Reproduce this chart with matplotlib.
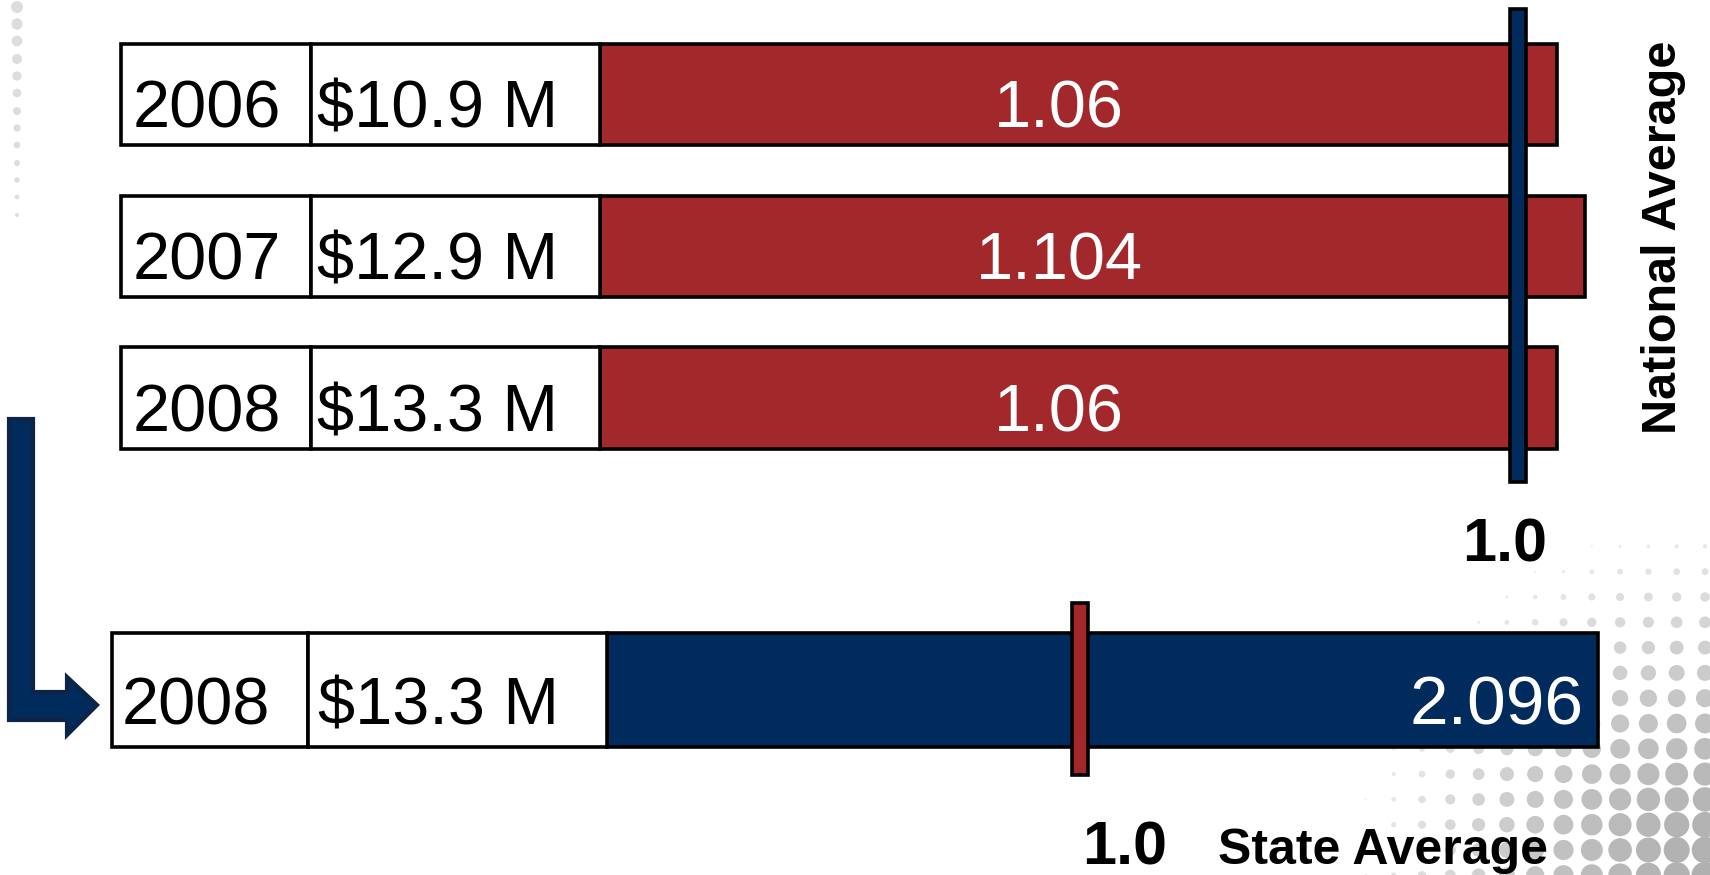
import numpy as np
import matplotlib.pyplot as plt
from matplotlib.patches import Rectangle, Polygon
from matplotlib import transforms

# data
years_top = ['2006', '2007', '2008']
funding_top = ['$10.9 M', '$12.9 M', '$13.3 M']
index_top = [1.06, 1.104, 1.06]
national_avg = 1.0

year_state = '2008'
funding_state = '$13.3 M'
index_state = 2.096
state_avg = 1.0

RED = '#A3282B'
NAVY = '#002B5C'
LW = 2.6
W, H = 1710, 875
SANS = ['Liberation Sans', 'DejaVu Sans']

fig = plt.figure(figsize=(W / 100, H / 100), dpi=100)


def px_axes(left, top, right, bottom):
    ax = fig.add_axes([left / W, 1 - bottom / H, (right - left) / W, (bottom - top) / H])
    ax.set_axis_off()
    ax.patch.set_alpha(0)
    return ax


# background decoration: dots and the arrow, in pixel units
bg = px_axes(0, 0, W, H)
bg.set_xlim(0, W)
bg.set_ylim(H, 0)
ly = np.array([7, 24, 41, 59, 76, 93, 111, 128, 145, 163, 180, 197, 215])
ld = np.linspace(12, 4, len(ly))
bg.scatter(np.full(len(ly), 17), ly, s=(0.72 * ld) ** 2, color='#dddddd', lw=0)
gx, gy = np.meshgrid(1705 - 28.3 * np.arange(14), 850 - 25.3 * np.arange(-1, 13))
dist = np.hypot(1710 - gx, 875 - gy)
keep = dist < 360
frac = np.clip(1 - (dist / 370) ** 1.5, 0, 1)[keep]
grey = (0.95 - 0.26 * frac)
bg.scatter(gx[keep], gy[keep], s=(0.72 * 27 * frac) ** 2,
           c=np.stack([grey, grey, grey], axis=1), lw=0)
arrow = [(9, 419), (33, 419), (33, 692), (67, 692), (67, 677), (97, 705),
         (67, 735), (67, 720), (9, 720)]
bg.add_patch(Polygon(arrow, closed=True, facecolor=NAVY, edgecolor='#0D2447', lw=3))

# top panel: three years vs national average
ax = px_axes(600, 0, 1710, 500)
px_per = 645.0
x0 = 1 + (600 - 1518) / px_per
ax.set_xlim(x0, x0 + 1110 / px_per)
ax.set_ylim(2.672, -0.623)
rows = np.arange(len(years_top))
bar_h = 0.666
ax.barh(rows, [v - x0 for v in index_top], left=x0, height=bar_h, color=RED,
        edgecolor='black', linewidth=LW, clip_on=False, zorder=2)
tr = transforms.blended_transform_factory(fig.transFigure, ax.transData)
for r, yr, fund, v in zip(rows, years_top, funding_top, index_top):
    for a, b in [(121, 311), (311, 600)]:
        ax.add_patch(Rectangle((a / W, r - bar_h / 2), (b - a) / W, bar_h, transform=tr,
                               facecolor='white', edgecolor='black', lw=LW, clip_on=False, zorder=2))
    ax.text(133 / W, r + 0.218, yr, transform=tr, fontsize=48, family=SANS, va='baseline', zorder=3)
    ax.text(317 / W, r + 0.218, fund, transform=tr, fontsize=48, family=SANS, va='baseline', zorder=3)
    ax.text((x0 + national_avg) / 2, r + 0.218, str(v), color='white', fontsize=48,
            family=SANS, ha='center', va='baseline', zorder=3)
ax.bar(national_avg, 2.554 + 0.564, bottom=-0.564, width=16 / px_per, color=NAVY,
       edgecolor='black', linewidth=LW, clip_on=False, zorder=4)
ax.text(national_avg - 0.02, 3.08, '1.0', fontsize=44, fontweight='bold', family=SANS,
        ha='center', va='baseline')
fig.text(1663 / W, 1 - 237 / H, 'National Average', rotation=90, fontsize=35,
         fontweight='bold', family=SANS, ha='center', va='center')

# bottom panel: 2008 vs state average
ax2 = px_axes(607, 590, 1710, 800)
px2 = 473.0
ax2.set_xlim(0, 1103 / px2)
ax2.set_ylim(110 / 114, -100 / 114)
ax2.barh(0, index_state, height=1.0, color=NAVY, edgecolor='black', linewidth=LW,
         clip_on=False, zorder=2)
tr2 = transforms.blended_transform_factory(fig.transFigure, ax2.transData)
for a, b in [(112, 308), (308, 607)]:
    ax2.add_patch(Rectangle((a / W, -0.5), (b - a) / W, 1.0, transform=tr2, facecolor='white',
                            edgecolor='black', lw=LW, clip_on=False, zorder=2))
ax2.text(122 / W, 0.307, year_state, transform=tr2, fontsize=48, family=SANS, va='baseline', zorder=3)
ax2.text(318 / W, 0.307, funding_state, transform=tr2, fontsize=48, family=SANS, va='baseline', zorder=3)
ax2.text(index_state - 15 / px2, 0.307, f'{index_state}', color='white', fontsize=50,
         family=SANS, ha='right', va='baseline', zorder=3)
ax2.bar(state_avg, 1.509, bottom=-0.763, width=16 / px2, color=RED, edgecolor='black',
        linewidth=LW, clip_on=False, zorder=4)
ax2.text(state_avg + 45 / px2, 1.53, '1.0', fontsize=44, fontweight='bold', family=SANS,
         ha='center', va='baseline')
ax2.text(state_avg + 138 / px2, 1.526, 'State Average', fontsize=36, fontweight='bold',
         family=SANS, ha='left', va='baseline')

fig.savefig('out.png', dpi=100)
